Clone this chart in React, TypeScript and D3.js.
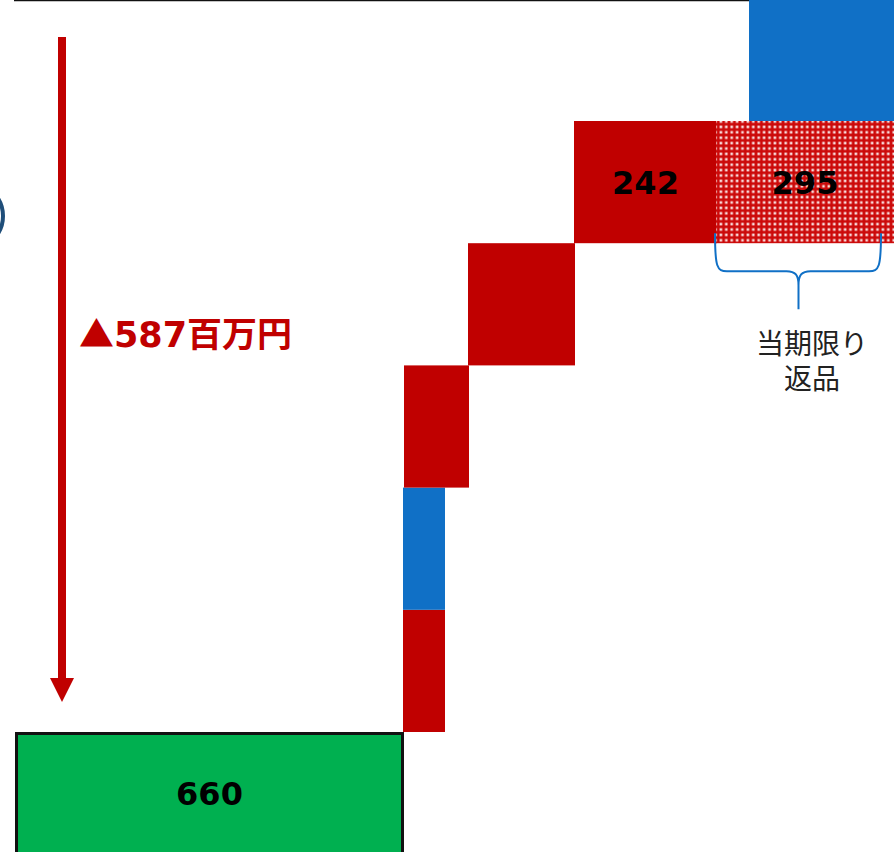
import React from "react";
import * as d3 from "d3";

// ---- data ----
const categories = ["前期", "要因A", "要因B", "要因C", "要因D", "要因E", "当期限り返品", "当期"];
const kinds = ["total", "down", "up", "down", "down", "down", "onetime", "up"];
// vertical extent of each bar in step units (one step = one bar height)
const levelFrom = [-1, 0, 1, 2, 3, 4, 4, 5];
const levelTo = [0, 1, 2, 3, 4, 5, 5, 6.2];
// horizontal extent in column units
const colFrom = [1, 389, 389, 390, 454, 560, 702, 735];
const colTo = [390, 431, 431, 455, 561, 703, 880, 880];
const valueLabels = ["660", "", "", "", "", "242", "295", ""];
const totalMark = "▲";
const totalValue = "587";
const totalUnit = "百万円";
const noteLines = ["当期限り", "返品"];

const W = 894;
const H = 852;
const RED = "#C00000";
const BLUE = "#1070C6";
const GREEN = "#00B050";
const CJK_FONT = "'Noto Sans CJK JP', 'Noto Sans', sans-serif";
const BOLD_FONT = "'DejaVu Sans', 'Noto Sans CJK JP', sans-serif";

export default function App() {
  const x = d3.scaleLinear().domain([0, 880]).range([14, 894]);
  const y = d3.scaleLinear().domain([0, 5]).range([732, 121]);

  const fillFor = (k: string) =>
    k === "total" ? GREEN : k === "up" ? BLUE : k === "onetime" ? "url(#dots)" : RED;

  const bars = categories.map((c, i) => ({
    c,
    k: kinds[i],
    x0: x(colFrom[i]),
    x1: x(colTo[i]),
    y0: y(levelTo[i]),
    y1: y(levelFrom[i]),
    label: valueLabels[i],
  }));

  const onetime = bars[6];
  const bx0 = onetime.x0 - 1;
  const bx1 = onetime.x1 - 13;
  const bm = (bx0 + bx1) / 2 + 0.5;
  const by0 = onetime.y1 - 10;
  const byH = by0 + 38;
  const bracket = d3.path();
  bracket.moveTo(bx0, by0);
  bracket.bezierCurveTo(bx0, byH - 4, bx0 + 2, byH, bx0 + 12, byH);
  bracket.lineTo(bm - 12, byH);
  bracket.bezierCurveTo(bm - 3, byH, bm, byH + 4, bm, byH + 14);
  bracket.lineTo(bm, byH + 38);
  bracket.moveTo(bm, byH + 14);
  bracket.bezierCurveTo(bm, byH + 4, bm + 3, byH, bm + 12, byH);
  bracket.lineTo(bx1 - 12, byH);
  bracket.bezierCurveTo(bx1 - 2, byH, bx1, byH - 4, bx1, by0);

  return (
    <svg
      width={W}
      height={H}
      style={{ position: "absolute", left: 0, top: 0, background: "#fff" }}
      fontFamily={CJK_FONT}
    >
      <defs>
        <pattern id="dots" width={5.4} height={5.4} patternUnits="userSpaceOnUse">
          <rect width={5.4} height={5.4} fill="#CC0A0A" />
          <rect x={1.4} y={1.4} width={2.6} height={2.6} fill="#F8DCDC" />
        </pattern>
      </defs>

      {/* top frame line */}
      <line x1={14} x2={760} y1={0.5} y2={0.5} stroke="#111" strokeWidth={1.5} />

      {/* partial circle at left edge */}
      <circle cx={-30} cy={216} r={33} fill="none" stroke="#1F4E79" strokeWidth={4} />

      {bars.map((b) => (
        <rect
          key={b.c}
          x={b.k === "total" ? b.x0 + 1.5 : b.x0}
          y={b.k === "total" ? b.y0 + 1.5 : b.y0}
          width={b.k === "total" ? b.x1 - b.x0 - 3 : b.x1 - b.x0}
          height={b.y1 - b.y0}
          fill={fillFor(b.k)}
          stroke={b.k === "total" ? "#111" : "none"}
          strokeWidth={3}
        />
      ))}

      {bars
        .filter((b) => b.label)
        .map((b) => (
          <text
            key={"l" + b.c}
            x={(b.x0 + b.x1) / 2}
            y={b.k === "total" ? 793 : (b.y0 + b.y1) / 2}
            dy="0.36em"
            textAnchor="middle"
            fontSize={32}
            fontWeight={700}
            fontFamily={BOLD_FONT}
            fill="#000"
          >
            {b.label}
          </text>
        ))}

      {/* bracket under one-time returns */}
      <path d={bracket.toString()} fill="none" stroke={BLUE} strokeWidth={2} />
      <text x={812} y={354} textAnchor="middle" fontSize={28} fill="#222">
        {noteLines.map((t, i) => (
          <tspan key={t} x={812} dy={i === 0 ? 0 : 35}>
            {t}
          </tspan>
        ))}
      </text>

      {/* total decline arrow */}
      <line x1={62} x2={62} y1={37} y2={682} stroke={RED} strokeWidth={8} />
      <polygon points="50,678 74,678 62,702" fill={RED} />
      <text x={79} y={347} fontSize={35} fontWeight={700} fill={RED}>
        <tspan fontFamily={CJK_FONT}>{totalMark}</tspan>
        <tspan fontFamily={BOLD_FONT}>{totalValue}</tspan>
        <tspan fontFamily={CJK_FONT}>{totalUnit}</tspan>
      </text>
    </svg>
  );
}
